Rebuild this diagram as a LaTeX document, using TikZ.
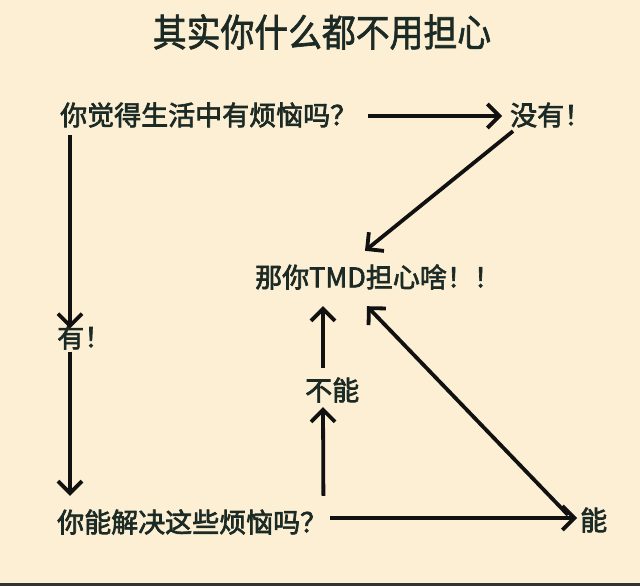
\documentclass[tikz,border=0pt]{standalone}
\usepackage{graphicx}
\usepackage{fontspec}
\setmainfont{Noto Sans CJK SC}
\newfontfamily\bodyfont{Noto Sans CJK SC}[FakeBold=2.5]
\newfontfamily\titlefont{Noto Sans CJK SC}[FakeBold=1.8]
\usetikzlibrary{arrows.meta,calc}
\definecolor{bg}{HTML}{FCEFD4}
\definecolor{ink}{HTML}{1C2A25}
\definecolor{lin}{HTML}{111111}
\begin{document}
\begin{tikzpicture}[x=1pt,y=-1pt,
 lbl/.style={font=\bodyfont\fontsize{27}{27}\selectfont, text=ink, inner sep=0pt, anchor=west},
 arr/.style={draw=lin, line width=3.8pt, -{Straight Barb[length=12pt,width=24pt,line width=3.8pt]}}
]
\fill[bg] (0,0) rectangle (640,586);
\fill[black!80] (0,583) rectangle (640,586);
\useasboundingbox (0,0) rectangle (640,586);
\node[font=\titlefont\fontsize{38}{38}\selectfont, text=ink, inner sep=0pt] (title) at (322,32) {\scalebox{0.89}[1]{其实你什么都不用担心}};
\node[lbl] (q1) at (60,115) {你觉得生活中有烦恼吗？};
\node[lbl] (no) at (510,115) {没有！};
\node[lbl] (dont) at (255,277) {那你TMD担心啥！！};
\node[lbl] (yes) at (57,337) {有！};
\node[lbl] (q2) at (57,522) {你能解决这些烦恼吗？};
\node[lbl] (cannot) at (305,390) {不能};
\node[lbl] (can) at (580,520) {能};
\draw[arr] ($(q1.east)+(11,1)$) -- ($(no.west)+(-8,1)$);
\draw[arr] ($(no.south west)+(3,3.5)$) -- ($(dont.north west)+(110,-13.5)$);
\draw[arr] ($(q1.south west)+(10,7.5)$) -- ($(yes.north west)+(13,4)$);
\draw[arr] ($(yes.south west)+(13,2)$) -- ($(q2.north west)+(13,-13.5)$);
\draw[arr] ($(q2.east)+(3,-4)$) -- ($(can.west)+(-3,-2)$);
\draw[arr] ($(q2.north east)+(-4,-13.5)$) -- ($(cannot.south west)+(18,4.5)$);
\draw[arr] ($(cannot.north west)+(18,-9.5)$) -- ($(dont.south west)+(68,16.5)$);
\draw[arr] ($(can.west)+(-12,-5)$) -- ($(dont.south west)+(112,16.5)$);
\end{tikzpicture}
\end{document}
